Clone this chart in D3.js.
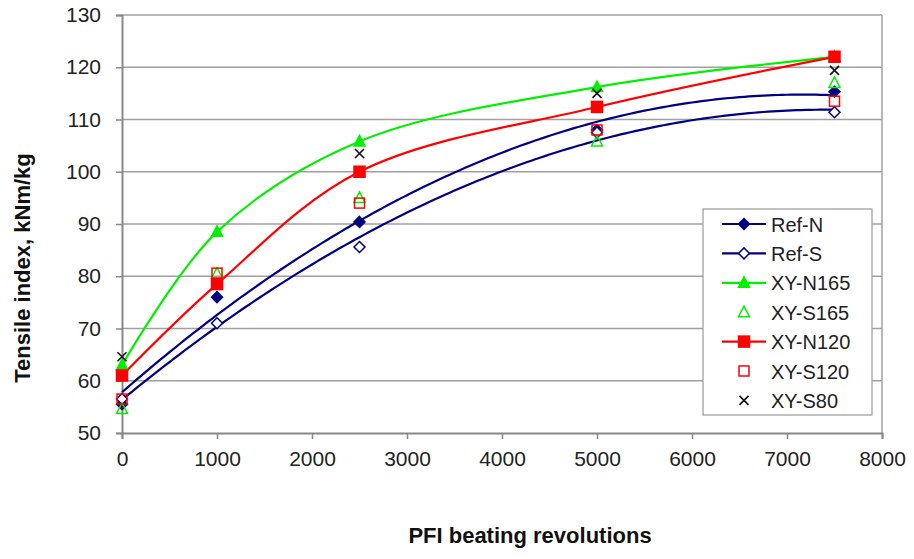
<!DOCTYPE html>
<html>
<head>
<meta charset="utf-8">
<script src="https://cdn.jsdelivr.net/npm/d3@7"></script>
<style>
  body { margin: 0; background: #fff; }
  text { font-family: 'Liberation Sans', Arial, sans-serif; }
</style>
</head>
<body>
<svg id="chart" width="914" height="559"></svg>
<script>
// beating revolutions
var revs = [0, 1000, 2500, 5000, 7500]
// tensile index per series, kNm/kg
var refN = [55.5, 76, 90.4, 108, 115.3]
var refS = [56.5, 71, 85.6, 107.5, 111.4]
var xyN165 = [63, 88.5, 105.8, 116.2, 122]
var xyS165 = [54.6, 80.5, 95, 105.8, 117]
var xyN120 = [61, 78.5, 100, 112.4, 122]
var xyS120 = [56.5, 80.6, 94, 108, 113.5]
var xyS80 = [64.6, null, 103.5, 115, 119.4]
var xTicks = [0, 1000, 2000, 3000, 4000, 5000, 6000, 7000, 8000]
var yTicks = [50, 60, 70, 80, 90, 100, 110, 120, 130]

var navy = '#000080'
var green = '#00f000'
var red = '#ff0000'

// line: 'fit' = quadratic trend, 'smooth' = through points, null = none
var series = [
  {name: 'Ref-N', vals: refN, color: navy, shape: 'diamond', fill: true, line: 'fit'},
  {name: 'Ref-S', vals: refS, color: navy, shape: 'diamond', fill: false, line: 'fit'},
  {name: 'XY-N165', vals: xyN165, color: green, shape: 'triangle', fill: true, line: 'smooth'},
  {name: 'XY-S165', vals: xyS165, color: green, shape: 'triangle', fill: false, line: null},
  {name: 'XY-N120', vals: xyN120, color: red, shape: 'square', fill: true, line: 'smooth'},
  {name: 'XY-S120', vals: xyS120, color: red, shape: 'square', fill: false, line: null},
  {name: 'XY-S80', vals: xyS80, color: '#111', shape: 'cross', fill: false, line: null}
]

var svg = d3.select('#chart')
var margin = {top: 15, right: 32, bottom: 126, left: 122}
var width = 914 - margin.left - margin.right
var height = 559 - margin.top - margin.bottom
var g = svg.append('g')
  .attr('transform', 'translate(' + margin.left + ',' + margin.top + ')')

var x = d3.scaleLinear().domain([0, 8000]).range([0, width])
var y = d3.scaleLinear().domain([50, 130]).range([height, 0])

// gridlines
g.append('g')
  .selectAll('line')
  .data(yTicks.slice(1))
  .enter().append('line')
  .attr('x1', 0).attr('x2', width)
  .attr('y1', (d) => y(d)).attr('y2', (d) => y(d))
  .attr('stroke', '#a0a0a0').attr('stroke-width', 1.5)

// right frame
g.append('line')
  .attr('x1', width).attr('x2', width).attr('y1', 0).attr('y2', height)
  .attr('stroke', '#a0a0a0').attr('stroke-width', 1.5)

var xAxis = g.append('g')
  .attr('transform', 'translate(0,' + height + ')')
  .call(d3.axisBottom(x).tickValues(xTicks).tickFormat(d3.format('d')).tickSize(6).tickPadding(12))
var yAxis = g.append('g')
  .call(d3.axisLeft(y).tickValues(yTicks).tickSize(6).tickPadding(15))
;[xAxis, yAxis].forEach(function (a) {
  a.select('.domain').attr('stroke', '#888').attr('stroke-width', 2)
  a.selectAll('.tick line').attr('stroke', '#888').attr('stroke-width', 1.5)
  a.selectAll('.tick text').attr('font-size', 21).attr('fill', '#222')
    .style('font-family', "'Liberation Sans', Arial, sans-serif")
})

// quadratic least squares trend
function quadFit (xs, ys) {
  var n = xs.length
  var s = [0, 0, 0, 0, 0]
  var t = [0, 0, 0]
  for (var i = 0; i < n; i++) {
    var u = xs[i] / 1000
    for (var k = 0; k < 5; k++) s[k] += Math.pow(u, k)
    for (k = 0; k < 3; k++) t[k] += ys[i] * Math.pow(u, k)
  }
  var m = [[s[0], s[1], s[2], t[0]], [s[1], s[2], s[3], t[1]], [s[2], s[3], s[4], t[2]]]
  for (var c = 0; c < 3; c++) {
    for (var r = c + 1; r < 3; r++) {
      var f = m[r][c] / m[c][c]
      for (var j = c; j < 4; j++) m[r][j] -= f * m[c][j]
    }
  }
  var b = [0, 0, 0]
  for (r = 2; r >= 0; r--) {
    var v = m[r][3]
    for (j = r + 1; j < 3; j++) v -= m[r][j] * b[j]
    b[r] = v / m[r][r]
  }
  return function (xv) { var u = xv / 1000; return b[0] + b[1] * u + b[2] * u * u }
}

var line = d3.line().x((d) => x(d[0])).y((d) => y(d[1]))

series.forEach(function (s) {
  var pts = revs.map((r, i) => [r, s.vals[i]]).filter((p) => p[1] != null)
  if (s.line === 'fit') {
    var f = quadFit(pts.map((p) => p[0]), pts.map((p) => p[1]))
    var fp = d3.range(0, 7501, 50).map((r) => [r, f(r)])
    g.append('path').attr('d', line(fp))
      .attr('fill', 'none').attr('stroke', s.color).attr('stroke-width', 2.2)
  } else if (s.line === 'smooth') {
    g.append('path').attr('d', line.curve(d3.curveCatmullRom)(pts))
      .attr('fill', 'none').attr('stroke', s.color).attr('stroke-width', 2.2)
    line.curve(d3.curveLinear)
  }
})

function marker (sel, s) {
  var c = s.color
  var fill = s.fill ? c : '#fff'
  if (s.shape === 'diamond') {
    sel.append('path').attr('d', 'M0,-5.5L5.5,0L0,5.5L-5.5,0Z')
      .attr('fill', fill).attr('stroke', c).attr('stroke-width', 1.5)
  } else if (s.shape === 'square') {
    var w = s.fill ? 11 : 10
    sel.append('rect').attr('x', -w / 2).attr('y', -w / 2).attr('width', w).attr('height', w)
      .attr('fill', s.fill ? c : 'none').attr('stroke', c).attr('stroke-width', 1.5)
  } else if (s.shape === 'triangle') {
    sel.append('path').attr('d', 'M0,-6L5.5,4.5L-5.5,4.5Z')
      .attr('fill', s.fill ? c : 'none').attr('stroke', c).attr('stroke-width', 1.5)
  } else {
    sel.append('path').attr('d', 'M-4.5,-4.5L4.5,4.5M-4.5,4.5L4.5,-4.5')
      .attr('stroke', c).attr('stroke-width', 1.6)
  }
}

// markers
series.forEach(function (s) {
  revs.forEach(function (r, i) {
    if (s.vals[i] == null) return
    var m = g.append('g').attr('transform', 'translate(' + x(r) + ',' + y(s.vals[i]) + ')')
    marker(m, s)
  })
})

// legend
var rowH = 29.4
var lg = svg.append('g').attr('transform', 'translate(703,209)')
lg.append('rect').attr('width', 169).attr('height', 206)
  .attr('fill', '#fff').attr('stroke', '#999').attr('stroke-width', 1.2)
series.forEach(function (s, i) {
  var row = lg.append('g').attr('transform', 'translate(0,' + (15 + i * rowH) + ')')
  if (s.line) {
    row.append('line').attr('x1', 19).attr('x2', 63).attr('y1', 0).attr('y2', 0)
      .attr('stroke', s.color).attr('stroke-width', 2.2)
  }
  marker(row.append('g').attr('transform', 'translate(41,0)'), s)
  row.append('text').attr('x', 68).attr('y', 7.5)
    .attr('font-size', 20).attr('fill', '#222').text(s.name)
})

// axis titles
svg.append('text')
  .attr('x', 530).attr('y', 543).attr('text-anchor', 'middle')
  .attr('font-size', 22).attr('font-weight', 'bold').attr('fill', '#111')
  .text('PFI beating revolutions')
svg.append('text')
  .attr('transform', 'translate(30,268) rotate(-90)').attr('text-anchor', 'middle')
  .attr('font-size', 22).attr('font-weight', 'bold').attr('fill', '#111')
  .text('Tensile index, kNm/kg')
</script>
</body>
</html>
